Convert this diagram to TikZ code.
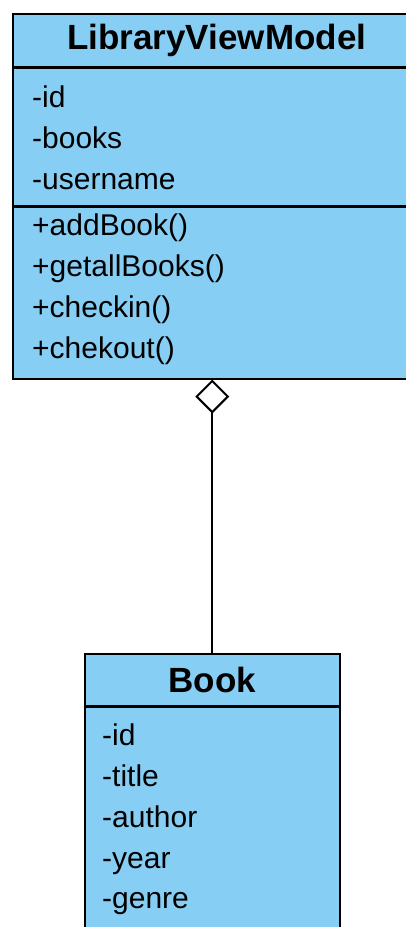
\documentclass[tikz,border=0pt]{standalone}
\usepackage{fontspec}
\setmainfont{Liberation Sans}
\usetikzlibrary{arrows.meta, positioning}
\definecolor{classblue}{RGB}{135,206,245}
\tikzstyle{classhead} = [rectangle, draw=black, fill=classblue, line width=1.5pt, inner sep=0pt, font=\fontsize{35}{40}\selectfont\bfseries]
\tikzstyle{classpart} = [rectangle, draw=black, fill=classblue, line width=1.5pt, inner sep=0pt]
\tikzstyle{member} = [anchor=base west, inner sep=0pt, font=\fontsize{30}{36}\selectfont]
\tikzstyle{aggr} = [line width=2pt, -{Diamond[open, length=34pt, width=34pt]}]

\begin{document}
\begin{tikzpicture}[x=1pt, y=1pt]
  \useasboundingbox (0,0) rectangle (406,-927);
  \clip (0,0) rectangle (406,-927);

  % LibraryViewModel
  \node (lvm) [classhead, minimum width=408pt, minimum height=53pt, anchor=north west] at (12,-13) {LibraryViewModel};
  \node (lvmattr) [classpart, minimum width=408pt, minimum height=137pt, below=0pt of lvm] {};
  \node (lvmops) [classpart, minimum width=408pt, minimum height=172pt, below=0pt of lvmattr] {};
  \node (lvm1) [member] at (32,-107) {-id};
  \node (lvm2) [member] at (32,-148) {-books};
  \node (lvm3) [member] at (32,-189) {-username};
  \node (lvm4) [member] at (32,-235) {+addBook()};
  \node (lvm5) [member] at (32,-276) {+getallBooks()};
  \node (lvm6) [member] at (32,-317) {+checkin()};
  \node (lvm7) [member] at (32,-358) {+chekout()};

  % Book
  \node (book) [classhead, minimum width=255pt, minimum height=52pt, anchor=north west] at (84,-653) {Book};
  \node (bookattr) [classpart, minimum width=255pt, minimum height=250pt, below=0pt of book] {};
  \node (book1) [member] at (102,-745) {-id};
  \node (book2) [member] at (102,-786) {-title};
  \node (book3) [member] at (102,-827) {-author};
  \node (book4) [member] at (102,-868) {-year};
  \node (book5) [member] at (102,-908) {-genre};

  \draw [aggr] (book.north) -- (book.north |- lvmops.south);
\end{tikzpicture}
\end{document}
